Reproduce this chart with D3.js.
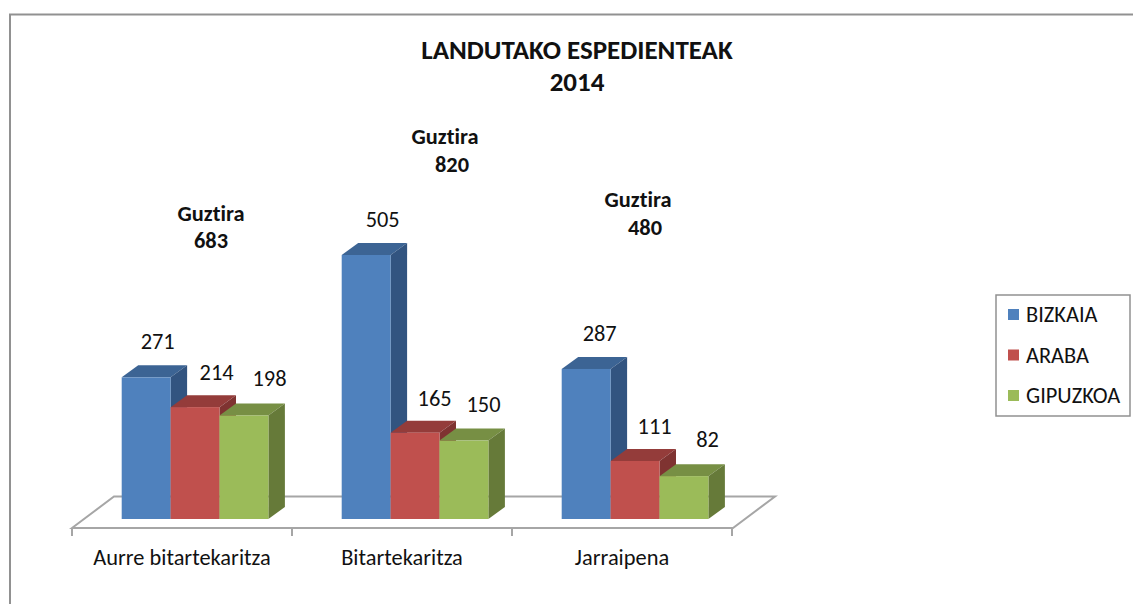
<!DOCTYPE html>
<html><head><meta charset="utf-8">
<script src="https://cdnjs.cloudflare.com/ajax/libs/d3/7.8.5/d3.min.js"></script>
<style>html,body{margin:0;padding:0;background:#fff}svg{display:block}text{font-family:Carlito,Lato,"Open Sans",sans-serif;fill:#111;font-variant-ligatures:none}</style>
</head><body><svg id="c" width="1133" height="604"></svg>
<script>
const categories = ["Aurre bitartekaritza", "Bitartekaritza", "Jarraipena"];
const seriesNames = ["BIZKAIA", "ARABA", "GIPUZKOA"];
const bizkaia = [271, 505, 287];
const araba = [214, 165, 111];
const gipuzkoa = [198, 150, 82];
const totals = [683, 820, 480];
const titleLines = ["LANDUTAKO ESPEDIENTEAK", "2014"];
const totalWord = "Guztira";

const seriesValues = [bizkaia, araba, gipuzkoa];
const front = ["#4f81bd", "#c0504d", "#9bbb59"];
const topFace = ["#3c6494", "#943c3a", "#778f44"];
const sideFace = ["#325480", "#7f3331", "#667a39"];
const depthX = 16.5, depthY = 12;
const labelFont = 22.4;

const svg = d3.select("#c");
const x0 = d3.scaleBand().domain(categories).range([72, 732]);
const x1 = d3.scaleBand().domain(seriesNames).range([49.7, 196.4]);
const y = d3.scaleLinear().domain([0, 505]).range([519, 255]);

// chart frame
svg.append("path").attr("d", "M10,604V14.5H1133").attr("fill", "none").attr("stroke", "#919191").attr("stroke-width", 2);

// floor
const floorStroke = "#a6a6a6";
svg.append("path").attr("d", "M72,528L114,496.5H775L733,528Z").attr("fill", "#fff").attr("stroke", floorStroke).attr("stroke-width", 2);
const axis = d3.axisBottom(x0).tickSize(0).tickPadding(21);
const gAxis = svg.append("g").attr("transform", "translate(0,528)").call(axis);
gAxis.select(".domain").remove();
gAxis.selectAll("text").attr("font-size", labelFont);
const edges = [...categories.map(c => x0(c)), x0.range()[1]];
svg.append("g").selectAll("line").data(edges).join("line")
  .attr("x1", d => d).attr("x2", d => d).attr("y1", 528).attr("y2", 536)
  .attr("stroke", floorStroke).attr("stroke-width", 2);

// bars (drawn left to right so that neighbours overlap the side faces)
const w = x1.bandwidth();
categories.forEach((cat, ci) => {
  seriesNames.forEach((s, si) => {
    const v = seriesValues[si][ci];
    const l = x0(cat) + x1(s), r = l + w, t = y(v), b = y(0);
    const g = svg.append("g");
    g.append("path").attr("d", `M${l},${t}L${l+depthX},${t-depthY}H${r+depthX}L${r},${t}Z`).attr("fill", topFace[si]);
    g.append("path").attr("d", `M${r},${t}L${r+depthX},${t-depthY}V${b-depthY}L${r},${b}Z`).attr("fill", sideFace[si]);
    g.append("rect").attr("x", l).attr("y", t).attr("width", w).attr("height", b - t).attr("fill", front[si]);
  });
});

// value labels
const labelDx = [[36, 46, 50], [41, 44, 44], [38, 44, 48]];
const labelDy = [36, 35, 37];
categories.forEach((cat, ci) => {
  seriesNames.forEach((s, si) => {
    const v = seriesValues[si][ci];
    svg.append("text").attr("x", x0(cat) + x1(s) + labelDx[ci][si]).attr("y", y(v) - labelDy[si] + 8)
      .attr("text-anchor", "middle").attr("font-size", labelFont).text(v);
  });
});

// totals
const totalPos = [[139, 213, 139, 240], [153, 136, 160, 164], [126, 199, 133, 227]];
totals.forEach((v, i) => {
  const p = totalPos[i], bx = x0(categories[i]);
  svg.append("text").attr("x", bx + p[0]).attr("y", p[1] + 7.5).attr("text-anchor", "middle").attr("font-size", labelFont).attr("font-weight", 700).text(totalWord);
  svg.append("text").attr("x", bx + p[2]).attr("y", p[3] + 7.5).attr("text-anchor", "middle").attr("font-size", labelFont).attr("font-weight", 700).text(v);
});

// title
titleLines.forEach((t, i) => {
  svg.append("text").attr("x", 577).attr("y", 58.5 + i * 32).attr("text-anchor", "middle").attr("font-size", 27).attr("font-weight", 700).text(t);
});

// legend
svg.append("rect").attr("x", 996).attr("y", 295).attr("width", 134).attr("height", 121).attr("fill", "#fff").attr("stroke", "#919191").attr("stroke-width", 1.5);
const ly = d3.scalePoint().domain(seriesNames).range([315, 396]);
seriesNames.forEach((s, i) => {
  svg.append("rect").attr("x", 1008).attr("y", ly(s) - 6).attr("width", 11).attr("height", 11).attr("fill", front[i]);
  svg.append("text").attr("x", 1026).attr("y", ly(s) + 7).attr("font-size", labelFont).text(s);
});
</script></body></html>
